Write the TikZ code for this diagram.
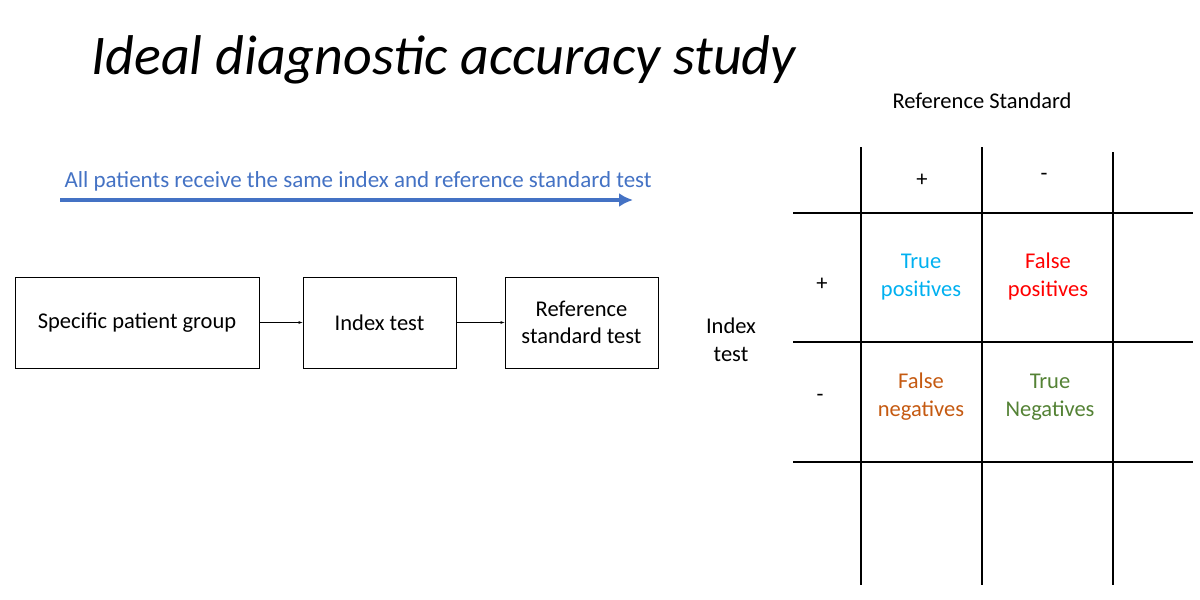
\documentclass[tikz,border=0pt]{standalone}
\usepackage{fontspec}
\setmainfont{Carlito}
\usetikzlibrary{arrows.meta}
\definecolor{arrowblue}{RGB}{68,114,196}
\definecolor{tpc}{RGB}{0,176,240}
\definecolor{fpc}{RGB}{255,0,0}
\definecolor{fnc}{RGB}{197,90,17}
\definecolor{tnc}{RGB}{84,130,53}
\begin{document}
\begin{tikzpicture}[x=1pt,y=-1pt,
  box/.style={draw,line width=1pt,minimum height=91pt,align=center,font=\fontsize{22.5}{27}\selectfont},
  txt/.style={align=center,font=\fontsize{22.5}{28}\selectfont},
  grid/.style={line width=1.5pt}]
\useasboundingbox (0,0) rectangle (1200,600);
\node[anchor=base west,font=\fontsize{56}{64}\selectfont\itshape] (title) at (88,74) {Ideal diagnostic accuracy study};
\coordinate (a1) at (60,200); \coordinate (a2) at (633,200);
\draw[arrowblue,line width=4pt,-{Latex[length=14pt,width=14pt]}] (a1) -- (a2);
\node[anchor=base west,txt,text=arrowblue,font=\fontsize{23}{28}\selectfont] (atext) at (61,187) {All patients receive the same index and reference standard test};
\node[box,minimum width=244pt] (spg) at (137,322.5) {Specific patient group};
\node[box,minimum width=153pt] (idx) at (379.5,322.5) {Index test};
\node[box,minimum width=153pt] (ref) at (581.5,322.5) {Reference\\standard test};
\draw[-latex] (spg) -- (idx);
\draw[-latex] (idx) -- (ref);
\node[txt] (it) at (731,340) {Index\\test};
\node[txt] (rs) at (982,101) {Reference Standard};
\coordinate (v1t) at (861,147); \coordinate (v1b) at (861,585);
\coordinate (v2t) at (982,147); \coordinate (v2b) at (982,585);
\coordinate (v3t) at (1113,152); \coordinate (v3b) at (1113,585);
\coordinate (h1l) at (793,213); \coordinate (h1r) at (1193,213);
\coordinate (h2l) at (793,342); \coordinate (h2r) at (1193,342);
\coordinate (h3l) at (793,462); \coordinate (h3r) at (1193,462);
\draw[grid] (v1t)--(v1b) (v2t)--(v2b) (v3t)--(v3b) (h1l)--(h1r) (h2l)--(h2r) (h3l)--(h3r);
\node[txt] (cp) at (922,180) {+};
\node[txt] (cm) at (1044,177) {-};
\node[txt] (rp) at (822,284) {+};
\node[txt] (rm) at (820,398) {-};
\node[txt,text=tpc] (tp) at (921,277) {True\\positives};
\node[txt,text=fpc] (fp) at (1048,276) {False\\positives};
\node[txt,text=fnc] (fn) at (921,397) {False\\negatives};
\node[txt,text=tnc] (tn) at (1050,397) {True\\Negatives};
\end{tikzpicture}
\end{document}
